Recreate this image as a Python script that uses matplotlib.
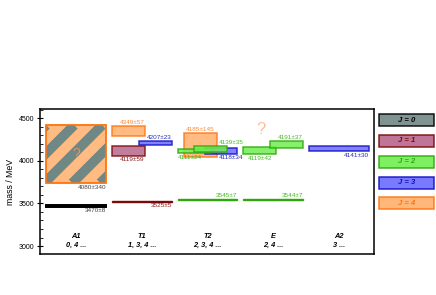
import numpy as np
import matplotlib
matplotlib.use('Agg')
import matplotlib.pyplot as plt
from matplotlib.patches import Rectangle

plt.rcParams['font.family'] = ['Liberation Sans', 'DejaVu Sans']

# irreps and the spins they contain
irreps = ['A1', 'T1', 'T2', 'E', 'A2']
irrep_spins = ['0, 4 ...', '1, 3, 4 ...', '2, 3, 4 ...', '2, 4 ...', '3 ...']

# lowest states (thin lines)
ground_irrep = ['A1', 'T1', 'T2', 'E']
ground_J = [0, 1, 2, 2]
ground_mass = [3470, 3525, 3545, 3544]
ground_err = [8, 5, 7, 7]

# excited states (boxes)
exc_irrep = ['A1', 'T1', 'T1', 'T1', 'T2', 'T2', 'T2', 'T2', 'E', 'E', 'A2']
exc_J = [4, 4, 1, 3, 4, 2, 2, 3, 2, 2, 3]
exc_mass = [4080, 4349, 4119, 4207, 4185, 4111, 4139, 4118, 4119, 4191, 4141]
exc_err = [340, 57, 59, 23, 145, 24, 35, 34, 42, 37, 30]

# layout of the boxes inside each column
exc_off = [0.0, 0.0, 0.0, 0.41, 0.10, 0.0, 0.25, 0.41, 0.0, 0.41, 0.0]
exc_wid = [0.91, 0.5, 0.5, 0.5, 0.5, 0.5, 0.5, 0.5, 0.5, 0.5, 0.91]
exc_lab = [('below', 'right'), ('above', 'right'), ('below', 'right'),
           ('above', 'right'), ('above', 'center'), ('below', 'left'),
           ('above', 'at'), ('below', 'at'), ('below', 'center'),
           ('above', 'right'), ('below', 'right')]
ground_lab = ['below', 'below', 'above', 'above']

face = {0: '#718784', 1: '#b8668c', 2: '#70ee50', 3: '#6c6cff', 4: '#ffb06c'}
edge = {0: '#000000', 1: '#7a0a0a', 2: '#2ea80e', 3: '#1010c8', 4: '#ff7410'}
tcol = {0: '#444444', 1: '#8b1a1a', 2: '#44bb22', 3: '#2a2ab8', 4: '#ff8838'}

COLW = 0.91

fig = plt.figure(figsize=(4.36, 2.95), dpi=100)
ax = fig.add_axes([0.0924, 0.138, 0.7656, 0.4915])
ax.set_xlim(-0.09, 4.99)
ax.set_ylim(2903, 4606)

fs = 4.6

# ground state lines
for irr, J, m, e, side in zip(ground_irrep, ground_J, ground_mass, ground_err, ground_lab):
    i = irreps.index(irr)
    c = 'black' if J == 0 else edge[J]
    ax.add_patch(Rectangle((i, m - e), COLW, 2 * e, facecolor=c, edgecolor=c,
                           lw=1.4 if J == 0 else 1.0, zorder=3))
    if side == 'above':
        ax.annotate(f'{m}±{e}', (i + COLW, m + e), xytext=(0, 0.8), textcoords='offset points',
                    ha='right', va='bottom', fontsize=fs, color=tcol[J])
    else:
        ax.annotate(f'{m}±{e}', (i + COLW, m - e), xytext=(0, -1.2), textcoords='offset points',
                    ha='right', va='top', fontsize=fs, color=tcol[J])

# excited state boxes
order = [0, 1, 2, 3, 4, 7, 5, 6, 8, 9, 10]
for k in order:
    i = irreps.index(exc_irrep[k])
    J, m, e = exc_J[k], exc_mass[k], exc_err[k]
    x0 = i + exc_off[k]
    w = exc_wid[k]
    rect = Rectangle((x0, m - e), w, 2 * e, facecolor=face[J], edgecolor=edge[J],
                     lw=1.1, alpha=0.85, zorder=4)
    ax.add_patch(rect)
    side, al = exc_lab[k]
    if al == 'right':
        xa, ha = x0 + w, 'right'
    elif al == 'left':
        xa, ha = x0, 'left'
    elif al == 'center':
        xa, ha = x0 + w / 2, 'center'
    else:
        xa, ha = i + 0.63, 'left'
    c = tcol[0] if k == 0 else tcol[J]
    if side == 'above':
        ax.annotate(f'{m}±{e}', (xa, m + e), xytext=(0, 0.8), textcoords='offset points',
                    ha=ha, va='bottom', fontsize=fs, color=c, zorder=6)
    else:
        ax.annotate(f'{m}±{e}', (xa, m - e), xytext=(0, -1.2), textcoords='offset points',
                    ha=ha, va='top', fontsize=fs, color=c, zorder=6)

# grey stripes (J=0) across the A1 box
k = 0
x0, m, e = irreps.index(exc_irrep[k]), exc_mass[k], exc_err[k]
clip = Rectangle((x0, m - e), exc_wid[k], 2 * e, transform=ax.transData, facecolor='none', edgecolor='none')
ax.add_patch(clip)
(px0, py0) = ax.transData.transform((x0, m - e))
(px1, py1) = ax.transData.transform((x0 + exc_wid[k], m + e))
inv = ax.transData.inverted()
period = 28.0
for s in np.arange(px0 - (py1 - py0) - 2 * period, px1 + period, period):
    p = inv.transform([(s, py0), (s + (py1 - py0), py1)])
    ln, = ax.plot(p[:, 0], p[:, 1], color=face[0], lw=7.0, solid_capstyle='butt', zorder=4.5)
    ln.set_clip_path(clip)
ax.add_patch(Rectangle((x0, m - e), exc_wid[k], 2 * e, facecolor='none',
                       edgecolor=edge[4], lw=1.1, zorder=5))

# question marks
ax.text(0 + COLW / 2, 4080, '?', ha='center', va='center', fontsize=10,
        color='#ff9a60', alpha=0.75, zorder=6)
ax.text(3 + 0.27, 4365, '?', ha='center', va='center', fontsize=12,
        color='#ffa070', alpha=0.7, zorder=6)

# column labels
for i, (irr, sp) in enumerate(zip(irreps, irrep_spins)):
    ax.text(i + COLW / 2, 0.121, irr, transform=ax.get_xaxis_transform(), ha='center',
            va='center', fontsize=5.3, fontweight='bold', fontstyle='italic')
    ax.text(i + COLW / 2, 0.064, sp, transform=ax.get_xaxis_transform(), ha='center',
            va='center', fontsize=5.3, fontweight='bold', fontstyle='italic')

ax.set_xticks([])
ax.set_yticks([3000, 3500, 4000, 4500])
ax.set_yticks(np.arange(3000, 4601, 100), minor=True)
ax.tick_params(axis='y', which='major', direction='inout', length=4.5, width=0.8,
               labelsize=5, pad=2)
ax.tick_params(axis='y', which='minor', direction='in', length=2, width=0.6)
ax.set_ylabel('mass / MeV', fontsize=6.3, labelpad=3)
for sp in ax.spines.values():
    sp.set_linewidth(1.1)

# legend
lax = fig.add_axes([0.866, 0.281, 0.134, 0.339])
lax.set_xlim(0, 1)
lax.set_ylim(100, 0)
lax.axis('off')
for J in range(5):
    top = 2 + 20.8 * J
    lax.add_patch(Rectangle((0.02, top), 0.95, 12, facecolor=face[J],
                            edgecolor=edge[J], lw=1.1, alpha=0.9))
    lax.text(0.5, top + 6, f'J = {J}', ha='center', va='center', fontsize=5.5,
             fontweight='bold', fontstyle='italic', color='black' if J == 0 else edge[J])

fig.savefig('out.png', dpi=100)
